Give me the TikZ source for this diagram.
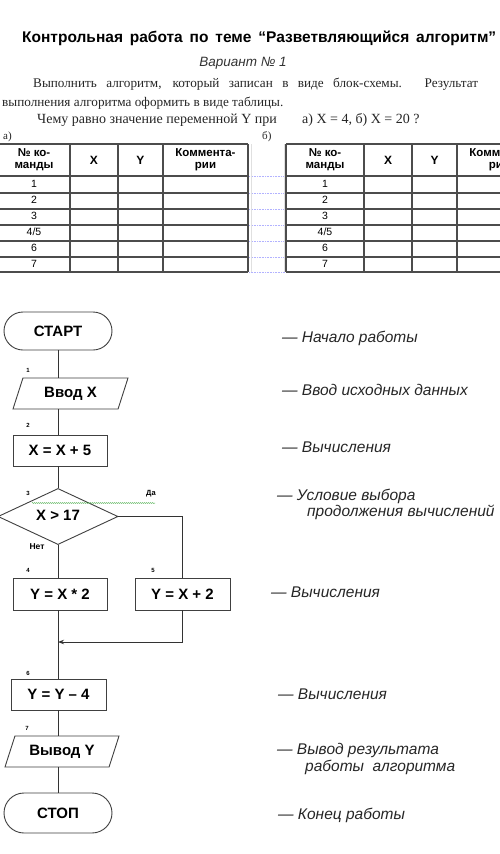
\documentclass[tikz,border=0pt]{standalone}
\usepackage{fontspec}
\setmainfont{Liberation Serif}
\setsansfont{Liberation Sans}
\usetikzlibrary{shapes.geometric,shapes.misc,decorations.pathmorphing,arrows.meta}
\begin{document}
\begin{tikzpicture}[x=1pt,y=-1pt,
  conn/.style={draw=black!80, line width=0.9pt},
  blk/.style={draw=black!75, line width=0.9pt, inner sep=1pt, font=\sffamily\bfseries\fontsize{15}{17}\selectfont},
  term/.style={blk, rounded rectangle, minimum width=110pt},
  io/.style={blk, trapezium, trapezium left angle=57, trapezium right angle=123, trapezium stretches body, minimum height=31pt},
  proc/.style={blk, rectangle, minimum width=94pt, minimum height=31pt},
  dec/.style={blk, diamond, minimum width=120pt, minimum height=45pt, inner sep=0pt},
  num/.style={font=\sffamily\bfseries\fontsize{6}{7}\selectfont, inner sep=0pt},
  cmt/.style={anchor=base west, inner sep=0pt, font=\sffamily\itshape\fontsize{15.5}{17}\selectfont, text=black!85},
  tline/.style={draw=black!70, line width=1.1pt},
  thead/.style={font=\sffamily\bfseries\fontsize{11.5}{12}\selectfont, align=center, inner sep=0pt},
  tcell/.style={font=\sffamily\fontsize{10.5}{11}\selectfont, inner sep=0pt},
  para/.style={anchor=base west, inner sep=0pt, font=\fontsize{13.2}{15}\selectfont, text=black!85}
]
\useasboundingbox (0,0) rectangle (500,854);
\fill[white] (0,0) rectangle (500,854);

% ---------- heading ----------
\node[anchor=base west, inner sep=0pt, font=\sffamily\bfseries\fontsize{15.5}{17}\selectfont] (title) at (22,42)
  {\makebox[474pt][s]{Контрольная работа по теме “Разветвляющийся алгоритм”}};
\node[anchor=base, inner sep=0pt, font=\sffamily\itshape\fontsize{13.5}{15}\selectfont, text=black!80] (var) at (243,66) {Вариант № 1};
\node[para] (p1) at (33,87) {\makebox[445pt][s]{Выполнить алгоритм, который записан в виде блок-схемы. Результат}};
\node[para] (p2) at (2,106) {выполнения алгоритма оформить в виде таблицы.};
\node[para, font=\fontsize{14}{15}\selectfont] (p3) at (37,123) {Чему равно значение переменной Y при};
\node[para, font=\fontsize{14}{15}\selectfont] (p3b) at (302,123) {а) X = 4, б) X = 20 ?};
\node[para, font=\fontsize{11}{12}\selectfont] (la) at (3,139) {а)};
\node[para, font=\fontsize{11}{12}\selectfont] (lb) at (262,139) {б)};

% ---------- tables ----------
\foreach \y in {176,193,209,225,241,257,272}
  \draw[blue!30, densely dotted, line width=0.6pt] (249,\y) -- (286,\y);
\draw[black!12, line width=0.5pt] (251,144) -- (251,272) (284,144) -- (284,272);
\foreach \ox/\a/\b/\c/\ex/\t in {-2/70/118/163/248/a, 286/364/412/457/542/b}{
  \foreach \y in {144,176,193,209,225,241,257,272}
    \draw[tline] (\ox,\y) -- (\ex,\y);
  \foreach \x in {\ox,\a,\b,\c,\ex}
    \draw[tline] (\x,144) -- (\x,272);
  \node[thead] (h1\t) at ({(\ox+\a)/2},160) {№ ко-\\манды};
  \node[thead, font=\sffamily\bfseries\fontsize{12}{13}\selectfont] (h2\t) at ({(\a+\b)/2},160) {X};
  \node[thead, font=\sffamily\bfseries\fontsize{12}{13}\selectfont] (h3\t) at ({(\b+\c)/2},160) {Y};
  \node[thead] (h4\t) at ({(\c+\ex)/2},160) {Коммента-\\рии};
  \foreach \lab [count=\i] in {1,2,3,4/5,6,7}
    \node[tcell] (r\i\t) at ({(\ox+\a)/2},{176+(\i-0.5)*16}) {\lab};
}

% ---------- flowchart ----------
\node[term, minimum height=38pt] (start) at (58,331) {СТАРТ};
\node[io, minimum width=115pt] (in) at (70.5,393.5) {Ввод X};
\node[proc] (s2) at (60,450.5) {X = X + 5};
\node[dec] (cond) at (58,516.5) {\raisebox{2pt}{X > 17}};
\node[proc, minimum height=32pt] (s4) at (60,594) {Y = X * 2};
\node[proc, minimum width=95pt, minimum height=32pt] (s5) at (182.5,594) {Y = X + 2};
\node[proc, minimum width=95pt] (s6) at (58.5,694.5) {Y = Y – 4};
\node[io, minimum width=114pt] (out) at (62,751.5) {Вывод Y};
\node[term, minimum height=40pt] (stop) at (58,813) {СТОП};
\coordinate (join) at (58,642);

\draw[conn] (start.south) -- (start.south |- in.north);
\draw[conn] (in.south -| start.south) -- (start.south |- s2.north);
\draw[conn] (start.south |- s2.south) -- (cond.north);
\draw[conn] (cond.east) -| (s5.north);
\draw[conn] (cond.south) -- (cond.south |- s4.north);
\draw[conn] (cond.south |- s4.south) -- (cond.south |- s6.north);
\draw[conn, -{Stealth[length=6pt,width=4.5pt]}] (s5.south) |- (join);
\draw[conn] (cond.south |- s6.south) -- (cond.south |- out.north);
\draw[conn] (cond.south |- out.south) -- (stop.north);

\draw[green!55!black!70, line width=0.5pt, decorate, decoration={snake, amplitude=0.5pt, segment length=2pt}]
  (32,503) -- (155,503);

\node[num] (n1) at (28,370) {1};
\node[num] (n2) at (28,425) {2};
\node[num] (n3) at (28,493) {3};
\node[num] (n4) at (28,570) {4};
\node[num] (n5) at (153,570) {5};
\node[num] (n6) at (28,673) {6};
\node[num] (n7) at (27,728) {7};
\node[num, font=\sffamily\bfseries\fontsize{7.5}{8}\selectfont] (yes) at (151,494) {Да};
\node[num, font=\sffamily\bfseries\fontsize{8.5}{9}\selectfont] (no) at (37,547) {Нет};

% ---------- comments ----------
\node[cmt] (c1) at (282,342) {— Начало работы};
\node[cmt] (c2) at (282,395) {— Ввод исходных данных};
\node[cmt] (c3) at (282,452) {— Вычисления};
\node[cmt] (c4) at (277,500) {— Условие выбора};
\node[cmt] (c4b) at (307,516) {продолжения вычислений};
\node[cmt] (c5) at (271,597) {— Вычисления};
\node[cmt] (c6) at (278,699) {— Вычисления};
\node[cmt] (c7) at (277,754) {— Вывод результата};
\node[cmt] (c7b) at (305,771) {работы \ алгоритма};
\node[cmt] (c8) at (278,819) {— Конец работы};
\end{tikzpicture}
\end{document}
